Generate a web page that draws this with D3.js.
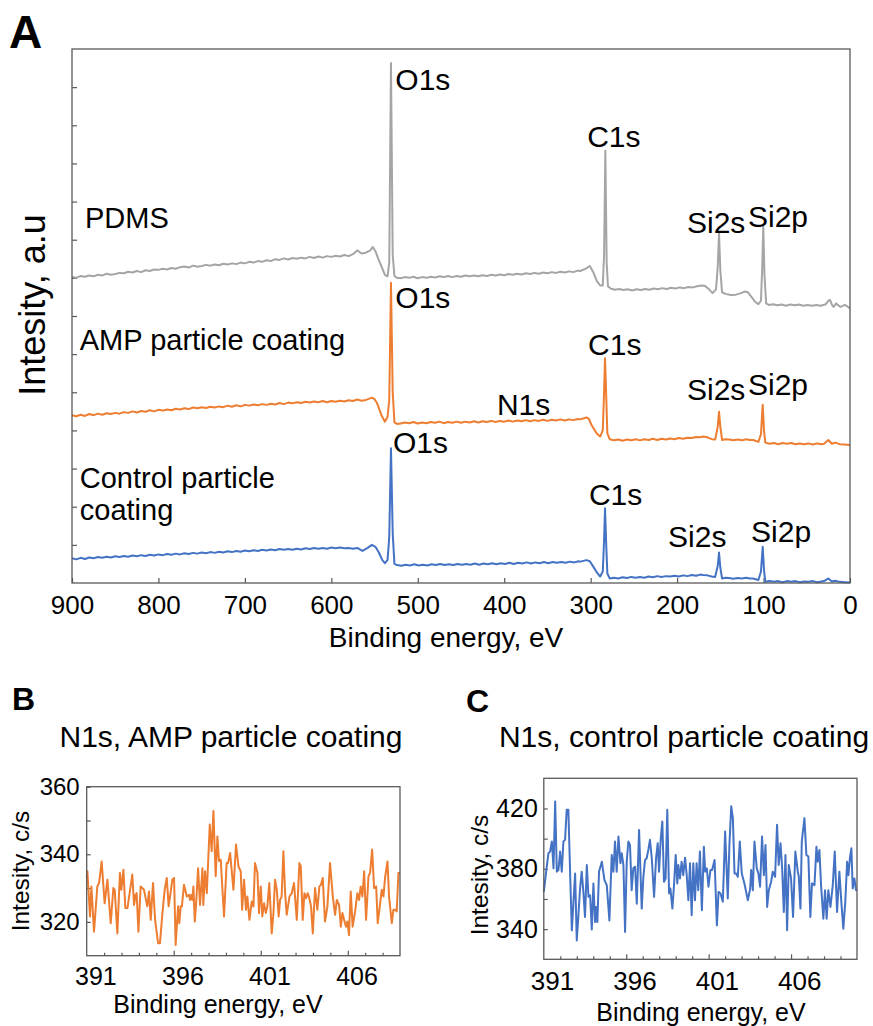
<!DOCTYPE html>
<html>
<head>
<meta charset="utf-8">
<script src="https://d3js.org/d3.v7.min.js"></script>
<style>
  body { margin: 0; background: #fff; }
  svg { display: block; font-family: "Liberation Sans", Arial, sans-serif; }
  .frame { fill: none; stroke: #595959; stroke-width: 1.3; }
  .axis line { stroke: #595959; stroke-width: 1.2; }
  .axis path { display: none; }
  .axis text { fill: #000; font-family: "Liberation Sans", Arial, sans-serif; }
</style>
</head>
<body>
<svg width="873" height="1026"></svg>
<script>
// ---- panel A : survey spectra, [binding energy (eV), intensity (a.u., stacked)]
const pdms = [[900,8.02],[895,8.00],[890,8.05],[885,8.03],[880,8.06],[875,8.04],[870,8.08],[865,8.06],[860,8.11],[855,8.08],
  [850,8.10],[845,8.13],[840,8.12],[835,8.16],[830,8.14],[825,8.18],[820,8.15],[815,8.20],[810,8.18],[805,8.22],
  [800,8.21],[795,8.24],[790,8.22],[785,8.26],[780,8.24],[775,8.28],[770,8.30],[765,8.27],[760,8.32],[755,8.29],
  [750,8.31],[745,8.34],[740,8.32],[735,8.35],[730,8.33],[725,8.37],[720,8.35],[715,8.38],[710,8.36],[705,8.40],
  [700,8.38],[695,8.42],[690,8.40],[685,8.44],[680,8.42],[675,8.46],[670,8.44],[665,8.49],[660,8.47],[655,8.51],
  [650,8.48],[645,8.52],[640,8.50],[635,8.53],[630,8.51],[625,8.55],[620,8.52],[615,8.56],[610,8.53],[605,8.57],
  [600,8.55],[595,8.58],[590,8.56],[585,8.60],[580,8.57],[575,8.62],[570,8.72],[565,8.64],[560,8.66],[555,8.72],
  [552,8.81],[549,8.70],[546,8.52],[542,8.30],[538,8.08],[535,8.04],[533,8.40],[531,13.63],[529,8.60],[527,8.05],
  [524,8.00],[520,7.99],[515,8.02],[510,8.00],[505,8.03],[500,7.99],[495,8.02],[490,8.00],[485,8.03],[480,8.01],
  [475,8.04],[470,8.02],[465,8.05],[460,8.02],[455,8.05],[450,8.03],[445,8.06],[440,8.04],[435,8.06],[430,8.04],
  [425,8.07],[420,8.05],[415,8.08],[410,8.06],[405,8.09],[400,8.07],[395,8.10],[390,8.08],[385,8.11],[380,8.09],
  [375,8.12],[370,8.10],[365,8.13],[360,8.11],[355,8.14],[350,8.12],[345,8.15],[340,8.13],[335,8.16],[330,8.14],
  [325,8.17],[320,8.15],[315,8.19],[312,8.18],[305,8.25],[301,8.31],[297,8.15],[293,7.92],[289,7.80],[286,7.80],
  [284.5,8.6],[283,11.33],[281.5,8.4],[280,7.78],[277,7.72],[272,7.69],[267,7.71],[262,7.68],[257,7.70],[252,7.67],
  [247,7.70],[242,7.68],[237,7.71],[232,7.69],[227,7.72],[222,7.70],[217,7.73],[212,7.71],[207,7.74],[202,7.72],
  [197,7.75],[192,7.73],[187,7.76],[182,7.75],[177,7.78],[172,7.80],[168,7.79],[163,7.70],[159,7.60],[155,7.70],
  [153,8.30],[151.5,9.17],[150,8.2],[148,7.62],[144,7.58],[138,7.55],[132,7.56],[126,7.60],[122,7.64],[118,7.62],
  [114,7.50],[110,7.38],[106,7.31],[103,7.40],[101.5,8.3],[100.3,9.34],[99,8.1],[97,7.33],[94,7.29],[89,7.31],
  [84,7.28],[79,7.30],[74,7.27],[69,7.30],[64,7.28],[59,7.30],[54,7.27],[49,7.29],[44,7.27],[39,7.29],
  [34,7.27],[28,7.31],[25,7.40],[23,7.42],[21,7.30],[19,7.24],[16,7.33],[13,7.27],[11,7.24],[6,7.29],[3,7.25],[0,7.20]];

const amp = [[900,4.40],[895,4.37],[890,4.41],[885,4.38],[880,4.43],[875,4.40],[870,4.44],[865,4.41],[860,4.45],[855,4.43],
  [850,4.46],[845,4.44],[840,4.48],[835,4.46],[830,4.50],[825,4.47],[820,4.51],[815,4.49],[810,4.53],[805,4.50],
  [800,4.54],[795,4.52],[790,4.55],[785,4.53],[780,4.57],[775,4.55],[770,4.58],[765,4.56],[760,4.60],[755,4.58],
  [750,4.61],[745,4.59],[740,4.62],[735,4.60],[730,4.63],[725,4.61],[720,4.65],[715,4.62],[710,4.66],[705,4.63],
  [700,4.67],[695,4.65],[690,4.68],[685,4.66],[680,4.69],[675,4.67],[670,4.70],[665,4.68],[660,4.72],[655,4.69],
  [650,4.73],[645,4.71],[640,4.74],[635,4.72],[630,4.75],[625,4.73],[620,4.76],[615,4.74],[610,4.77],[605,4.74],
  [600,4.77],[595,4.75],[590,4.78],[585,4.76],[580,4.79],[575,4.77],[570,4.81],[565,4.78],[560,4.80],[553,4.86],
  [550,4.82],[547,4.71],[542,4.40],[538,4.23],[535,4.35],[533,4.8],[531,7.87],[529,5.0],[527,4.21],[524,4.17],
  [520,4.18],[515,4.21],[510,4.19],[505,4.22],[500,4.18],[495,4.21],[490,4.19],[485,4.22],[480,4.20],[475,4.23],
  [470,4.19],[465,4.22],[460,4.20],[455,4.23],[450,4.20],[445,4.23],[440,4.21],[435,4.24],[430,4.21],[425,4.24],
  [420,4.22],[415,4.25],[410,4.22],[405,4.25],[400,4.23],[395,4.26],[390,4.23],[385,4.26],[380,4.24],[375,4.27],
  [370,4.24],[365,4.27],[360,4.25],[355,4.28],[350,4.25],[345,4.28],[340,4.26],[335,4.29],[330,4.26],[325,4.29],
  [320,4.27],[315,4.30],[312,4.29],[305,4.34],[302,4.30],[299,4.14],[293,3.92],[289,3.84],[286,4.0],[284.5,5.0],
  [283.4,5.89],[282,4.9],[280.7,3.92],[278,3.77],[273,3.74],[268,3.76],[263,3.73],[258,3.76],[253,3.74],[248,3.77],
  [243,3.74],[238,3.77],[233,3.75],[228,3.78],[223,3.75],[218,3.78],[213,3.76],[208,3.79],[203,3.77],[198,3.80],
  [193,3.78],[188,3.81],[183,3.80],[178,3.83],[173,3.82],[170,3.84],[165,3.82],[160,3.77],[156,3.76],[153,4.1],
  [151.5,4.49],[150,4.1],[148,3.75],[144,3.77],[140,3.76],[135,3.74],[130,3.76],[125,3.74],[120,3.77],[116,3.75],
  [112,3.75],[106,3.70],[103,3.9],[101,4.67],[99.5,4.0],[98,3.68],[93,3.65],[88,3.67],[83,3.64],[78,3.67],
  [73,3.65],[68,3.67],[63,3.64],[58,3.66],[53,3.64],[48,3.66],[43,3.63],[38,3.66],[33,3.64],[30,3.65],
  [25,3.75],[21,3.65],[17,3.68],[12,3.64],[6,3.63],[0,3.62]];

const control = [[900,0.65],[895,0.62],[890,0.66],[885,0.63],[880,0.67],[875,0.65],[870,0.68],[865,0.66],[860,0.69],[855,0.67],
  [850,0.70],[845,0.68],[840,0.71],[835,0.69],[830,0.72],[825,0.70],[820,0.73],[815,0.71],[810,0.74],[805,0.72],
  [800,0.75],[795,0.73],[790,0.76],[785,0.74],[780,0.77],[775,0.75],[770,0.78],[765,0.76],[760,0.79],[755,0.77],
  [750,0.80],[745,0.78],[740,0.81],[735,0.79],[730,0.82],[725,0.80],[720,0.83],[715,0.81],[710,0.84],[705,0.82],
  [700,0.85],[695,0.83],[690,0.86],[685,0.84],[680,0.87],[675,0.85],[670,0.88],[665,0.86],[660,0.89],[655,0.87],
  [650,0.89],[645,0.87],[640,0.90],[635,0.88],[630,0.91],[625,0.89],[620,0.92],[615,0.90],[610,0.92],[605,0.90],
  [600,0.93],[595,0.91],[590,0.93],[585,0.91],[580,0.92],[575,0.90],[570,0.92],[564,0.84],[558,0.92],[553,1.00],
  [549,0.95],[545,0.80],[541,0.60],[538,0.52],[535,0.60],[533,1.2],[531,3.53],[529,1.3],[527,0.50],[524,0.47],
  [519,0.45],[514,0.48],[509,0.46],[504,0.49],[499,0.46],[494,0.48],[489,0.46],[484,0.49],[479,0.47],[474,0.50],
  [469,0.47],[464,0.49],[459,0.47],[454,0.50],[449,0.48],[444,0.50],[439,0.48],[434,0.51],[429,0.48],[424,0.51],
  [419,0.49],[414,0.52],[409,0.49],[404,0.52],[399,0.50],[394,0.53],[389,0.50],[384,0.53],[379,0.51],[374,0.54],
  [369,0.51],[364,0.54],[359,0.52],[354,0.55],[349,0.52],[344,0.55],[339,0.53],[334,0.55],[329,0.53],[324,0.56],
  [319,0.54],[314,0.57],[312,0.56],[305,0.60],[301,0.57],[297,0.43],[292,0.25],[289,0.17],[286,0.3],[284.5,1.1],
  [283.4,1.96],[282,1.0],[280.7,0.25],[278,0.12],[273,0.14],[268,0.12],[263,0.15],[258,0.13],[253,0.16],[248,0.14],
  [243,0.16],[238,0.14],[233,0.17],[228,0.15],[223,0.18],[218,0.16],[213,0.18],[208,0.17],[203,0.19],[198,0.17],
  [193,0.20],[188,0.18],[183,0.21],[178,0.19],[173,0.22],[170,0.21],[165,0.20],[160,0.17],[156,0.16],[153,0.45],
  [151.5,0.80],[150,0.40],[148,0.12],[144,0.14],[140,0.13],[135,0.11],[130,0.13],[125,0.12],[120,0.14],[116,0.12],
  [112,0.12],[106,0.08],[103,0.3],[101,0.95],[99.5,0.35],[98,0.03],[93,0.05],[88,0.03],[83,0.05],[78,0.02],
  [73,0.05],[68,0.03],[63,0.05],[58,0.02],[53,0.04],[48,0.03],[43,0.05],[38,0.02],[33,0.04],[30,0.05],
  [25,0.12],[21,0.04],[17,0.06],[12,0.03],[6,0.02],[0,0.01]];

const surveyTicks = [900, 800, 700, 600, 500, 400, 300, 200, 100, 0];
const surveyColors = ['#a5a5a5', '#ed7d31', '#4472c4'];

// sample names: [text lines, energy, intensity] where the label sits
const sampleLabels = [
  [['PDMS'], 885, 9.31],
  [['AMP particle coating'], 891, 6.11],
  [['Control particle', 'coating'], 891, 2.49]
];

// peak labels: [name, energy, intensity] of the label's left baseline
const peakLabels = [
  ['O1s', 526, 12.93], ['C1s', 304, 11.43], ['Si2s', 188.6, 9.18], ['Si2p', 118, 9.33],
  ['O1s', 526, 7.21], ['N1s', 408.4, 4.40], ['C1s', 303, 5.98], ['Si2s', 188.6, 4.80], ['Si2p', 118, 4.93],
  ['O1s', 528.7, 3.41], ['C1s', 302, 2.05], ['Si2s', 210.5, 0.94], ['Si2p', 114.5, 1.08]
];

// ---- panels B and C : N1s high resolution, [binding energy (eV), counts/s]
const n1sAmp = [[390.50,333.0],[390.54,335.0],[390.69,321.6],[390.77,330.5],[390.92,317.1],[391.11,330.5],[391.21,331.5],[391.36,337.9],[391.53,325.5],[391.69,332.5],
  [391.88,319.6],[392.03,330.0],[392.11,329.5],[392.26,316.6],[392.41,334.5],[392.49,329.5],[392.61,335.4],[392.72,324.1],[392.84,324.1],[393.12,334.0],
  [393.22,325.0],[393.31,328.0],[393.37,328.5],[393.47,317.1],[393.60,330.5],[393.79,329.5],[393.98,324.6],[394.08,329.0],[394.18,320.6],[394.31,331.5],
  [394.43,320.6],[394.60,313.7],[394.71,313.7],[394.85,322.6],[394.98,329.5],[395.10,333.0],[395.21,324.6],[395.42,332.5],[395.52,333.0],[395.61,313.2],
  [395.75,324.6],[395.82,319.6],[395.90,324.6],[395.97,324.6],[396.09,331.0],[396.25,327.5],[396.38,328.0],[396.44,326.5],[396.51,328.0],[396.57,326.5],
  [396.63,330.5],[396.71,320.1],[396.80,326.5],[396.90,335.9],[397.01,325.0],[397.15,335.9],[397.20,325.0],[397.30,335.0],[397.40,328.5],[397.57,348.8],
  [397.68,340.9],[397.78,352.8],[397.91,333.5],[398.01,345.3],[398.10,338.0],[398.20,338.4],[398.39,321.6],[398.54,337.4],[398.62,337.4],[398.74,340.4],
  [398.93,329.5],[399.08,342.9],[399.22,336.4],[399.35,335.0],[399.43,323.6],[399.54,332.5],[399.65,323.6],[399.73,327.5],[399.85,320.6],[399.98,326.0],
  [400.08,324.6],[400.17,337.4],[400.31,334.5],[400.40,322.6],[400.50,330.5],[400.59,321.6],[400.69,325.5],[400.79,322.6],[400.88,324.6],[400.99,331.5],
  [401.13,316.6],[401.23,322.6],[401.32,332.5],[401.42,329.5],[401.53,321.6],[401.61,326.5],[401.70,327.5],[401.80,340.9],[401.90,328.5],[401.99,322.1],
  [402.15,327.5],[402.28,328.5],[402.41,331.5],[402.57,320.6],[402.72,337.4],[402.80,336.4],[402.91,320.6],[403.01,328.5],[403.10,327.0],[403.20,328.5],
  [403.29,327.0],[403.39,324.6],[403.49,316.6],[403.62,330.0],[403.75,323.6],[403.87,330.5],[403.96,331.0],[404.06,333.0],[404.19,320.1],[404.33,324.6],
  [404.48,337.4],[404.64,327.5],[404.77,322.1],[404.87,326.5],[405.00,325.0],[405.10,318.6],[405.19,322.6],[405.29,320.6],[405.40,318.6],[405.48,320.1],
  [405.57,316.1],[405.67,329.0],[405.78,318.6],[405.92,323.1],[406.05,328.5],[406.15,326.5],[406.24,330.5],[406.34,327.5],[406.44,335.0],[406.55,320.6],
  [406.69,333.5],[406.78,334.5],[406.90,341.4],[407.01,330.0],[407.13,330.5],[407.22,319.6],[407.36,325.5],[407.45,329.5],[407.55,327.5],[407.64,333.0],
  [407.78,337.9],[407.87,327.5],[408.03,319.6],[408.12,323.6],[408.22,323.6],[408.31,323.1],[408.41,334.5],[408.50,334.5]];

const n1sControl = [[390.50,364.7],[390.68,381.4],[390.78,390.3],[390.88,391.4],[390.99,398.1],[391.09,380.3],[391.19,424.7],[391.29,378.1],[391.39,379.2],[391.49,391.4],
  [391.59,378.1],[391.69,398.1],[391.79,399.2],[391.89,419.2],[391.99,419.2],[392.10,375.8],[392.20,339.2],[392.30,358.1],[392.40,376.9],[392.50,332.5],
  [392.60,349.2],[392.70,366.9],[392.80,378.1],[392.90,364.7],[393.00,348.1],[393.11,382.5],[393.21,361.4],[393.31,362.5],[393.41,339.8],[393.51,370.3],
  [393.61,344.7],[393.67,354.7],[393.75,344.7],[393.85,378.1],[394.02,384.7],[394.18,372.5],[394.32,369.2],[394.48,345.8],[394.62,389.2],[394.72,378.1],
  [394.82,398.1],[394.92,378.1],[395.03,401.4],[395.15,383.6],[395.23,390.3],[395.33,382.5],[395.43,338.1],[395.53,384.7],[395.63,398.1],[395.73,395.8],
  [395.83,365.8],[395.93,380.3],[396.04,381.4],[396.14,356.9],[396.28,405.8],[396.44,353.6],[396.54,374.7],[396.64,385.8],[396.74,387.0],[396.84,392.5],
  [396.94,399.2],[397.05,387.0],[397.19,361.4],[397.31,387.0],[397.41,396.9],[397.49,378.1],[397.59,399.2],[397.69,411.4],[397.79,371.4],[397.89,373.6],
  [397.99,419.2],[398.10,363.6],[398.18,366.9],[398.30,353.6],[398.40,369.2],[398.50,389.2],[398.60,370.3],[398.66,382.5],[398.76,373.6],[398.86,384.7],
  [398.96,375.8],[399.07,387.4],[399.17,375.8],[399.27,359.2],[399.37,383.6],[399.47,349.2],[399.57,383.6],[399.67,359.2],[399.77,383.6],[399.87,365.8],
  [399.97,391.4],[400.09,352.5],[400.21,394.7],[400.29,378.1],[400.39,380.3],[400.49,368.1],[400.61,379.2],[400.71,379.2],[400.86,385.8],[401.00,342.5],
  [401.10,364.7],[401.22,363.6],[401.36,358.1],[401.50,404.7],[401.66,360.3],[401.76,395.8],[401.87,421.4],[401.97,413.6],[402.07,376.9],[402.17,376.9],
  [402.27,374.7],[402.39,398.1],[402.51,376.9],[402.67,370.3],[402.88,359.2],[403.02,366.9],[403.08,379.2],[403.18,365.8],[403.28,398.1],[403.42,380.3],
  [403.52,376.9],[403.62,368.1],[403.74,401.4],[403.85,375.8],[403.95,395.8],[404.05,354.7],[404.15,365.8],[404.29,371.4],[404.39,378.1],[404.53,374.7],
  [404.65,409.2],[404.75,382.5],[404.86,396.9],[404.96,380.3],[405.06,351.4],[405.16,389.2],[405.26,339.2],[405.36,382.5],[405.50,373.6],[405.62,348.1],
  [405.76,391.4],[405.91,378.1],[405.97,374.7],[406.07,353.6],[406.15,398.1],[406.31,413.6],[406.43,389.2],[406.55,388.1],[406.67,348.1],[406.77,370.3],
  [406.92,369.2],[407.04,394.7],[407.12,384.7],[407.22,392.5],[407.32,369.2],[407.46,346.9],[407.56,365.8],[407.66,346.9],[407.76,365.8],[407.89,354.7],
  [408.03,369.2],[408.15,391.4],[408.29,351.4],[408.43,378.1],[408.55,358.1],[408.67,340.3],[408.79,358.1],[408.90,384.7],[408.98,375.8],[409.08,388.1],
  [409.16,393.6],[409.24,366.9],[409.34,373.6],[409.44,365.8],[409.50,365.8]];

const n1sLabels = [391, 396, 401, 406];

const svg = d3.select('svg');
svg.append('rect').attr('width', 873).attr('height', 1026).attr('fill', '#fff');

/*****************************************************
** panel A
******************************************************/
const xA = d3.scaleLinear().domain([900, 0]).range([72, 850]);
const yA = d3.scaleLinear().domain([0, 14]).range([583, 49]);

svg.append('g').attr('class', 'axis')
  .attr('transform', 'translate(0,583)')
  .call(d3.axisBottom(xA).tickValues(surveyTicks).tickSize(-5).tickPadding(13))
  .selectAll('text').attr('font-size', 26);

svg.append('g').attr('class', 'axis')
  .attr('transform', 'translate(72,0)')
  .call(d3.axisLeft(yA).tickValues(d3.range(1, 14)).tickSize(-5).tickFormat(''));

const lineA = d3.line().x(d => xA(d[0])).y(d => yA(d[1]));
svg.selectAll('path.survey')
  .data([pdms, amp, control]).enter().append('path')
  .attr('class', 'survey')
  .attr('d', lineA)
  .attr('fill', 'none')
  .attr('stroke', (d, i) => surveyColors[i])
  .attr('stroke-width', 2)
  .attr('stroke-linejoin', 'round');

svg.append('rect').attr('class', 'frame')
  .attr('x', 72).attr('y', 49).attr('width', 778).attr('height', 534);

svg.selectAll('text.peak')
  .data(peakLabels).enter().append('text')
  .attr('class', 'peak')
  .attr('x', d => xA(d[1])).attr('y', d => yA(d[2]))
  .attr('font-size', 30)
  .text(d => d[0]);

sampleLabels.forEach(s => {
  const t = svg.append('text')
    .attr('x', xA(s[1])).attr('y', yA(s[2]))
    .attr('font-size', 29);
  s[0].forEach((line, i) => {
    t.append('tspan').attr('x', xA(s[1])).attr('dy', i ? 32 : 0).text(line);
  });
});

svg.append('text')
  .attr('transform', 'translate(45,305)rotate(-90)')
  .attr('text-anchor', 'middle').attr('font-size', 36)
  .text('Intesity, a.u');

svg.append('text')
  .attr('x', 446).attr('y', 647)
  .attr('text-anchor', 'middle').attr('font-size', 28)
  .text('Binding energy, eV');

svg.append('text').attr('x', 9).attr('y', 48)
  .attr('font-size', 46).attr('font-weight', 'bold').text('A');

/*****************************************************
** panels B and C
******************************************************/
function n1sPanel(opt) {
  const x = d3.scaleLinear().domain(opt.xDomain).range([opt.left, opt.right]);
  const y = d3.scaleLinear().domain(opt.yDomain).range([opt.bottom, opt.top]);
  const g = svg.append('g');

  // one tick mark between every label step, longer every 5 eV
  const minor = d3.range(opt.xDomain[0] + 1, opt.xDomain[1], 1);
  g.append('g').attr('class', 'axis')
    .attr('transform', `translate(0,${opt.bottom})`)
    .call(d3.axisBottom(x).tickValues(minor).tickFormat('').tickSize(0))
    .selectAll('.tick line')
    .attr('y2', d => Math.round(d - opt.xDomain[0]) % 5 === 0 ? -5 : -3);

  g.append('g').attr('class', 'axis')
    .attr('transform', `translate(0,${opt.bottom})`)
    .call(d3.axisBottom(x).tickValues(n1sLabels).tickSize(0).tickPadding(opt.xPad))
    .selectAll('text').attr('font-size', opt.xFont);

  g.append('g').attr('class', 'axis')
    .attr('transform', `translate(${opt.left},0)`)
    .call(d3.axisLeft(y).tickValues(opt.yTicks).tickSize(-4).tickPadding(opt.yPad)
      .tickFormat(d => opt.yLabels.includes(d) ? d : ''))
    .selectAll('text').attr('font-size', opt.yFont);

  g.append('path')
    .datum(opt.data)
    .attr('d', d3.line().x(d => x(d[0])).y(d => y(d[1])))
    .attr('fill', 'none')
    .attr('stroke', opt.color)
    .attr('stroke-width', 2)
    .attr('stroke-linejoin', 'round');

  g.append('rect').attr('class', 'frame')
    .attr('x', opt.left).attr('y', opt.top)
    .attr('width', opt.right - opt.left).attr('height', opt.bottom - opt.top);

  g.append('text').attr('x', opt.letterX).attr('y', opt.letterY)
    .attr('font-size', 32).attr('font-weight', 'bold').text(opt.letter);

  g.append('text').attr('x', opt.titleX).attr('y', 747)
    .attr('text-anchor', 'middle').attr('font-size', 30).text(opt.title);

  g.append('text')
    .attr('transform', `translate(${opt.yTitleX},${opt.yTitleY})rotate(-90)`)
    .attr('text-anchor', 'middle').attr('font-size', 24.5)
    .text('Intesity, c/s');

  g.append('text').attr('x', opt.xTitleX).attr('y', opt.xTitleY)
    .attr('text-anchor', 'middle').attr('font-size', 25)
    .text('Binding energy, eV');
}

n1sPanel({
  data: n1sAmp, color: '#ed7d31',
  xDomain: [390.5, 408.5], yDomain: [310, 360],
  left: 86.7, right: 400, top: 786.7, bottom: 955.7,
  yTicks: [320, 330, 340, 350, 360], yLabels: [320, 340, 360],
  xPad: 12, xFont: 25, yPad: 7, yFont: 24,
  letter: 'B', letterX: 12, letterY: 710,
  title: 'N1s, AMP particle coating', titleX: 231,
  yTitleX: 29, yTitleY: 871, xTitleX: 218, xTitleY: 1013
});

n1sPanel({
  data: n1sControl, color: '#4472c4',
  xDomain: [390.5, 409.5], yDomain: [320, 440],
  left: 543.8, right: 857, top: 778.3, bottom: 959.3,
  yTicks: [340, 360, 380, 400, 420], yLabels: [340, 380, 420],
  xPad: 12, xFont: 26, yPad: 6, yFont: 25,
  letter: 'C', letterX: 466, letterY: 712,
  title: 'N1s, control particle coating', titleX: 684,
  yTitleX: 488, yTitleY: 875, xTitleX: 701, xTitleY: 1021
});
</script>
</body>
</html>
